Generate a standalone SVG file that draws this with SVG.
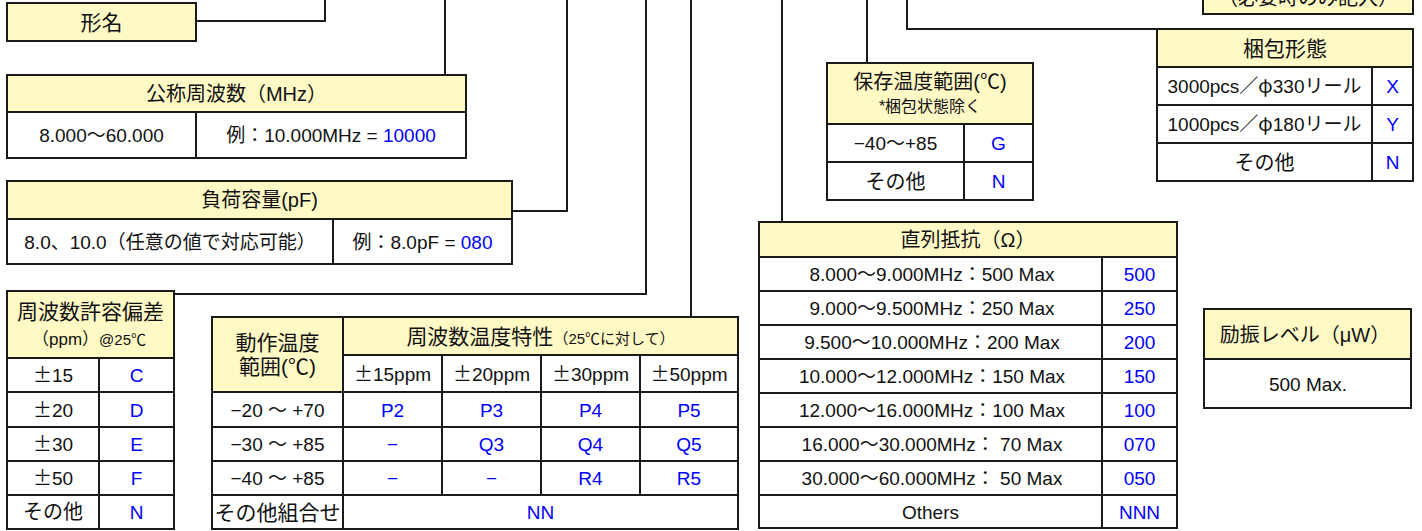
<svg xmlns="http://www.w3.org/2000/svg" width="1422" height="531" viewBox="0 0 1422 531">
<style>
.hdr{fill:#FFF9C6;stroke:#1a1a1a;stroke-width:2}
.box{fill:#ffffff;stroke:#1a1a1a;stroke-width:2}
.ln{stroke:#1a1a1a;stroke-width:2;fill:none}
text{font-family:"Liberation Sans","Noto Sans CJK JP",sans-serif;font-size:19px;fill:#111;text-anchor:middle}
.j{font-size:20px}
.k{font-size:21px}
.s{font-size:15px}
.b{fill:#0000FF}
.w{font-family:"Noto Sans CJK JP",sans-serif}
</style>
<rect width="1422" height="531" fill="#ffffff"/>
<g id="connectors">
<path class="ln" d="M196,21 H325 V0"/>
<path class="ln" d="M445,0 V75"/>
<path class="ln" d="M512,211 H567 V0"/>
<path class="ln" d="M174,294 H646 V0"/>
<path class="ln" d="M691,0 V317"/>
<path class="ln" d="M782,0 V222"/>
<path class="ln" d="M867,0 V63"/>
<path class="ln" d="M907,0 V29 H1157"/>
</g>
<g id="note">
<rect class="hdr" x="1203" y="-20" width="210" height="34"/>
<text class="j" x="1308" y="5">（必要時のみ記入）</text>
</g>
<g id="model">
<rect class="hdr" x="7" y="3" width="189" height="38"/>
<text class="k" x="101.5" y="29.5">形名</text>
</g>
<g id="nominal-frequency">
<rect class="hdr" x="7" y="75" width="459" height="37"/>
<rect class="box" x="7" y="112" width="459" height="46"/>
<line class="ln" x1="196" y1="112" x2="196" y2="158"/>
<text class="j" x="236.5" y="101">公称周波数（MHz）</text>
<text x="101.5" y="142">8.000～60.000</text>
<text x="331" y="142">例：10.000MHz = <tspan class="b">10000</tspan></text>
</g>
<g id="load-capacitance">
<rect class="hdr" x="7" y="181" width="505" height="38"/>
<rect class="box" x="7" y="219" width="505" height="45"/>
<line class="ln" x1="333" y1="219" x2="333" y2="264"/>
<text class="j" x="259.5" y="207">負荷容量(pF)</text>
<text x="170" y="248.5">8.0、10.0（任意の値で対応可能）</text>
<text x="422.5" y="248.5">例：8.0pF = <tspan class="b">080</tspan></text>
</g>
<g id="frequency-tolerance">
<rect class="hdr" x="7" y="291" width="167" height="67"/>
<rect class="box" x="7" y="358" width="167" height="171"/>
<path class="ln" d="M7,392 H174 M7,427 H174 M7,461 H174 M7,495 H174 M99,358 V529"/>
<text class="k" x="90.5" y="319">周波数許容偏差</text>
<text x="89" y="345" style="font-size:17px">（ppm）<tspan class="s">@25℃</tspan></text>
<text x="53" y="382"><tspan class="w">±</tspan>15</text><text class="b" x="136.5" y="382">C</text>
<text x="53" y="416.5"><tspan class="w">±</tspan>20</text><text class="b" x="136.5" y="416.5">D</text>
<text x="53" y="451"><tspan class="w">±</tspan>30</text><text class="b" x="136.5" y="451">E</text>
<text x="53" y="485"><tspan class="w">±</tspan>50</text><text class="b" x="136.5" y="485">F</text>
<text class="j" x="53" y="519">その他</text><text class="b" x="136.5" y="519">N</text>
</g>
<g id="temperature-characteristics">
<rect class="hdr" x="212" y="317" width="131" height="75"/>
<rect class="hdr" x="343" y="317" width="395" height="38"/>
<rect class="box" x="343" y="355" width="395" height="37"/>
<rect class="box" x="212" y="392" width="526" height="137"/>
<path class="ln" d="M212,427 H738 M212,461 H738 M212,495 H738 M343,392 V529 M442,355 V495 M541,355 V495 M640,355 V495"/>
<text class="k" x="277.5" y="350">動作温度</text>
<text class="k" x="277.5" y="373.5">範囲(℃)</text>
<text class="k" x="540.5" y="343.5">周波数温度特性<tspan class="s">（25℃に対して）</tspan></text>
<text x="392.5" y="380.5"><tspan class="w">±</tspan>15ppm</text>
<text x="491.5" y="380.5"><tspan class="w">±</tspan>20ppm</text>
<text x="590.5" y="380.5"><tspan class="w">±</tspan>30ppm</text>
<text x="689" y="380.5"><tspan class="w">±</tspan>50ppm</text>
<text x="277.5" y="416.5">−20 ～ +70</text>
<text class="b" x="392.5" y="416.5">P2</text><text class="b" x="491.5" y="416.5">P3</text><text class="b" x="590.5" y="416.5">P4</text><text class="b" x="689" y="416.5">P5</text>
<text x="277.5" y="451">−30 ～ +85</text>
<text class="b" x="392.5" y="451">−</text><text class="b" x="491.5" y="451">Q3</text><text class="b" x="590.5" y="451">Q4</text><text class="b" x="689" y="451">Q5</text>
<text x="277.5" y="485">−40 ～ +85</text>
<text class="b" x="392.5" y="485">−</text><text class="b" x="491.5" y="485">−</text><text class="b" x="590.5" y="485">R4</text><text class="b" x="689" y="485">R5</text>
<text class="k" x="277.5" y="519.5">その他組合せ</text>
<text class="b" x="540.5" y="519">NN</text>
</g>
<g id="storage-temperature">
<rect class="hdr" x="827" y="63" width="206" height="61"/>
<rect class="box" x="827" y="124" width="206" height="76"/>
<path class="ln" d="M827,162 H1033 M964,124 V200"/>
<text class="j" x="930" y="89">保存温度範囲(℃)</text>
<text x="930" y="112" style="font-size:16px">*梱包状態除く</text>
<text x="895.5" y="150">−40～+85</text><text class="b" x="998.5" y="150">G</text>
<text class="j" x="895.5" y="188.5">その他</text><text class="b" x="998.5" y="188">N</text>
</g>
<g id="series-resistance">
<rect class="hdr" x="759" y="222" width="418" height="35"/>
<rect class="box" x="759" y="257" width="418" height="271"/>
<path class="ln" d="M759,291 H1177 M759,325 H1177 M759,359 H1177 M759,393 H1177 M759,427 H1177 M759,461 H1177 M759,495 H1177 M1102,257 V528"/>
<text class="j" x="968" y="247">直列抵抗（Ω）</text>
<text x="932" y="281">8.000～9.000MHz：500 Max</text><text class="b" x="1139.5" y="281">500</text>
<text x="932" y="315">9.000～9.500MHz：250 Max</text><text class="b" x="1139.5" y="315">250</text>
<text x="932" y="349">9.500～10.000MHz：200 Max</text><text class="b" x="1139.5" y="349">200</text>
<text x="932" y="383">10.000～12.000MHz：150 Max</text><text class="b" x="1139.5" y="383">150</text>
<text x="932" y="417">12.000～16.000MHz：100 Max</text><text class="b" x="1139.5" y="417">100</text>
<text x="932" y="451">16.000～30.000MHz： 70 Max</text><text class="b" x="1139.5" y="451">070</text>
<text x="932" y="485">30.000～60.000MHz： 50 Max</text><text class="b" x="1139.5" y="485">050</text>
<text x="930.5" y="518.5">Others</text><text class="b" x="1139.5" y="518.5">NNN</text>
</g>
<g id="packaging">
<rect class="hdr" x="1157" y="29" width="256" height="38"/>
<rect class="box" x="1157" y="67" width="256" height="114"/>
<path class="ln" d="M1157,105 H1413 M1157,143 H1413 M1372,67 V181"/>
<text class="k" x="1285" y="55.5">梱包形態</text>
<text x="1264.5" y="93">3000pcs／<tspan class="w">φ</tspan>330リール</text><text class="b" x="1392.5" y="93">X</text>
<text x="1264.5" y="131">1000pcs／<tspan class="w">φ</tspan>180リール</text><text class="b" x="1392.5" y="131">Y</text>
<text class="j" x="1264.5" y="169.5">その他</text><text class="b" x="1392.5" y="169">N</text>
</g>
<g id="drive-level">
<rect class="hdr" x="1204" y="309" width="207" height="50"/>
<rect class="box" x="1204" y="359" width="207" height="49"/>
<text class="j" x="1305" y="341.5">励振レベル（μW）</text>
<text x="1308" y="390.5">500 Max.</text>
</g>
</svg>
